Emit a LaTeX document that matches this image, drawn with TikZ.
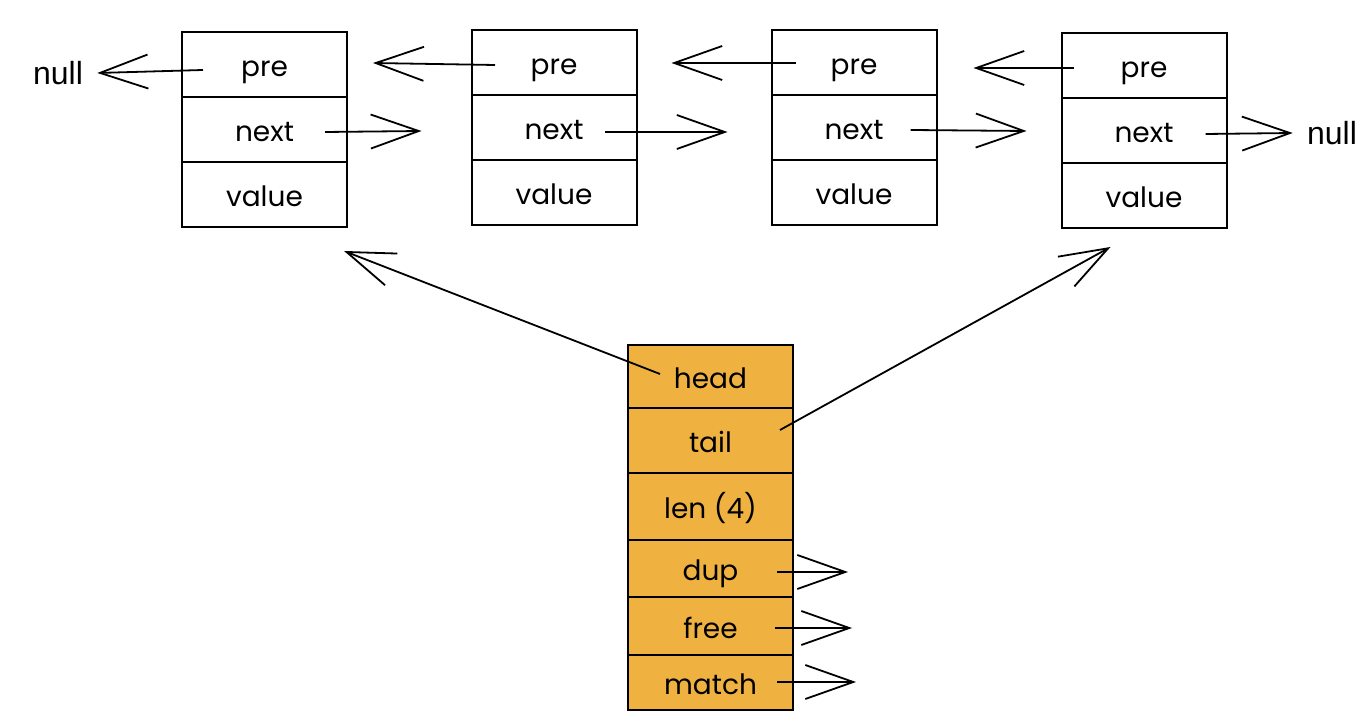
\documentclass[tikz,border=0pt]{standalone}
\usepackage{fontspec}
\setmainfont{Liberation Sans}
\newfontfamily\handfont{Poppins}
\usetikzlibrary{arrows.meta,calc}
\definecolor{listorange}{HTML}{EFB241}

\tikzset{
  cell/.style={draw, line width=1pt, minimum width=82.5pt, minimum height=32.5pt,
    inner sep=0pt, text height=1.25em, text depth=0pt,
    font=\handfont\fontsize{14}{16}\selectfont},
  listcell/.style={cell, fill=listorange},
  ptr/.style={line width=0.9pt, -{Straight Barb[length=24pt,width=17pt]}},
  nulltext/.style={inner sep=7pt, font=\fontsize{16}{18}\selectfont},
}

\begin{document}
\begin{tikzpicture}[x=0.5pt,y=-0.5pt]
    \useasboundingbox (0,0) rectangle (1372,726);
    % list nodes
    \node[cell] (b1pre) at (264.5,64.5) {pre};
    \node[cell] (b1next) at (264.5,129.5) {next};
    \node[cell] (b1value) at (264.5,194.5) {value};
    \node[cell] (b2pre) at (554,62.5) {pre};
    \node[cell] (b2next) at (554,127.5) {next};
    \node[cell] (b2value) at (554,192.5) {value};
    \node[cell] (b3pre) at (854,62.5) {pre};
    \node[cell] (b3next) at (854,127.5) {next};
    \node[cell] (b3value) at (854,192.5) {value};
    \node[cell] (b4pre) at (1144,65.5) {pre};
    \node[cell] (b4next) at (1144,130.5) {next};
    \node[cell] (b4value) at (1144,195.5) {value};
    \node[nulltext] (null1) at (58,73) {null};
    \node[nulltext] (null2) at (1332,133) {null};
    % list header
    \node[listcell, minimum height=31.5pt] (head) at (710.5,376.5) {head};
    \node[listcell, minimum height=32.5pt] (tail) at (710.5,440.5) {tail};
    \node[listcell, minimum height=33.5pt] (len) at (710.5,506.5) {len (4)};
    \node[listcell, minimum height=28.5pt] (dup) at (710.5,568.5) {dup};
    \node[listcell, minimum height=29pt] (free) at (710.5,626) {free};
    \node[listcell, minimum height=27.5pt] (match) at (710.5,682.5) {match};
    \coordinate (dupend) at (848,572);
    \coordinate (freeend) at (852,628);
    \coordinate (matchend) at (856,682);
    % pre / next pointers
    \draw[ptr] ($(b1pre.center)+(-61.5,5.5)$) -- (null1.east);
    \draw[ptr] ($(b2pre.center)+(-59,2.5)$) -- ($(b1pre.east)+(25,-1.5)$);
    \draw[ptr] ($(b1next.center)+(60.5,2.5)$) -- ($(b2next.west)+(-49,3.5)$);
    \draw[ptr] ($(b3pre.center)+(-58.5,0.5)$) -- ($(b2pre.east)+(34,0.5)$);
    \draw[ptr] ($(b2next.center)+(51,4.5)$) -- ($(b3next.west)+(-43,4.5)$);
    \draw[ptr] ($(b4pre.center)+(-70.5,2.5)$) -- ($(b3pre.east)+(36,5.5)$);
    \draw[ptr] ($(b3next.center)+(56.5,2.5)$) -- ($(b4next.west)+(-34,0.5)$);
    \draw[ptr] ($(b4next.center)+(61.5,3.5)$) -- (null2.west);
    % head / tail
    \draw[ptr] ($(head.center)+(-50.5,-2.5)$) -- ($(b1value.south east)+(-4,23)$);
    \draw[ptr] ($(tail.center)+(69.5,-10.5)$) -- ($(b4value.south)+(-33.5,18)$);
    \draw[ptr] ($(dup.center)+(66.5,3.5)$) -- (dupend);
    \draw[ptr] ($(free.center)+(64.5,2)$) -- (freeend);
    \draw[ptr] ($(match.center)+(66.5,-0.5)$) -- (matchend);
\end{tikzpicture}
\end{document}
